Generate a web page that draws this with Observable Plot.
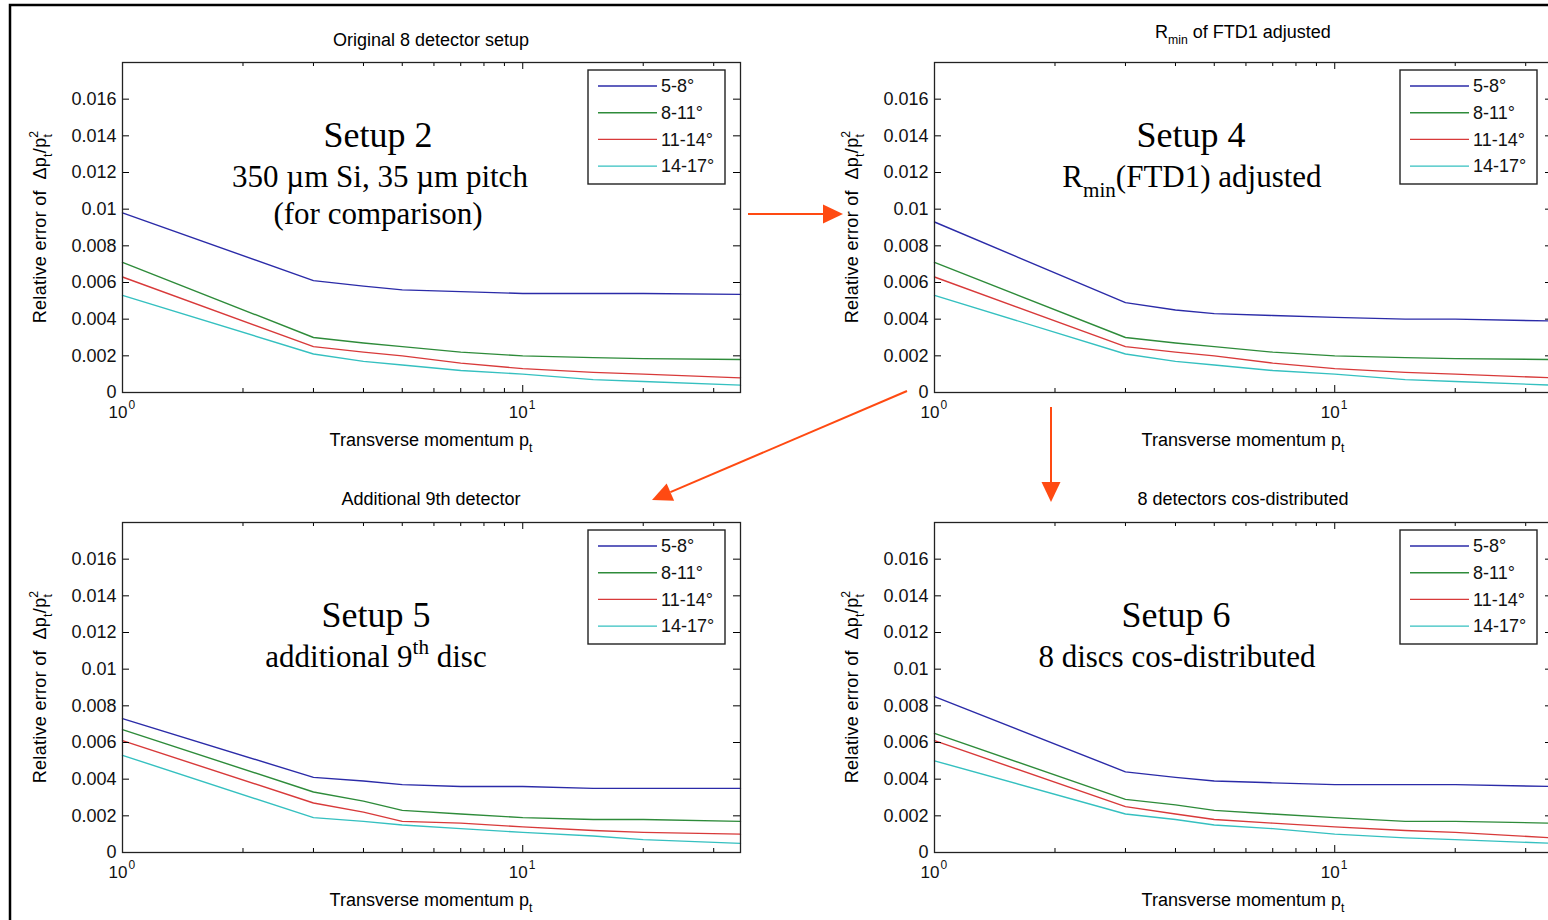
<!DOCTYPE html>
<html>
<head>
<meta charset="utf-8">
<script src="https://cdn.jsdelivr.net/npm/d3@7"></script>
<script src="https://cdn.jsdelivr.net/npm/@observablehq/plot@0.6"></script>
<style>
html, body { margin: 0; padding: 0; overflow: hidden; background: #fff; width: 1548px; height: 920px; }
#root { position: relative; width: 1548px; height: 920px; overflow: hidden; background: #fff; }
.panel { position: absolute; }
#overlay { position: absolute; left: 0; top: 0; pointer-events: none; }
</style>
</head>
<body>
<div id="root"></div>
<script>
// ---------------- DATA ----------------
const pt = [1, 3, 4, 5, 7, 10, 15, 20, 35];           // transverse momentum p_t
const bands = ["5-8°", "8-11°", "11-14°", "14-17°"]; // polar-angle ranges
const lineColors = ["#2b2ba8", "#2e8b3a", "#d83a3a", "#35c0c0"];

// Setup 2 – original 8 detector setup
const s2_5to8   = [0.0098, 0.0061, 0.0058, 0.0056, 0.0055, 0.0054, 0.0054, 0.0054, 0.00535];
const s2_8to11  = [0.0071, 0.0030, 0.0027, 0.0025, 0.0022, 0.0020, 0.0019, 0.00185, 0.0018];
const s2_11to14 = [0.0063, 0.0025, 0.0022, 0.0020, 0.0016, 0.0013, 0.0011, 0.0010, 0.0008];
const s2_14to17 = [0.0053, 0.0021, 0.0017, 0.0015, 0.0012, 0.0010, 0.0007, 0.0006, 0.0004];

// Setup 4 – R_min of FTD1 adjusted
const s4_5to8   = [0.0093, 0.0049, 0.0045, 0.0043, 0.0042, 0.0041, 0.0040, 0.0040, 0.0039];
const s4_8to11  = [0.0071, 0.0030, 0.0027, 0.0025, 0.0022, 0.0020, 0.0019, 0.00185, 0.0018];
const s4_11to14 = [0.0063, 0.0025, 0.0022, 0.0020, 0.0016, 0.0013, 0.0011, 0.0010, 0.0008];
const s4_14to17 = [0.0053, 0.0021, 0.0017, 0.0015, 0.0012, 0.0010, 0.0007, 0.0006, 0.0004];

// Setup 5 – additional 9th detector
const s5_5to8   = [0.0073, 0.0041, 0.0039, 0.0037, 0.0036, 0.0036, 0.0035, 0.0035, 0.0035];
const s5_8to11  = [0.0067, 0.0033, 0.0028, 0.0023, 0.0021, 0.0019, 0.0018, 0.0018, 0.0017];
const s5_11to14 = [0.0061, 0.0027, 0.0022, 0.0017, 0.0016, 0.0014, 0.0012, 0.0011, 0.0010];
const s5_14to17 = [0.0053, 0.0019, 0.0017, 0.0015, 0.0013, 0.0011, 0.0009, 0.0007, 0.0005];

// Setup 6 – 8 detectors cos-distributed
const s6_5to8   = [0.0085, 0.0044, 0.0041, 0.0039, 0.0038, 0.0037, 0.0037, 0.0037, 0.0036];
const s6_8to11  = [0.0065, 0.0029, 0.0026, 0.0023, 0.0021, 0.0019, 0.0017, 0.0017, 0.0016];
const s6_11to14 = [0.0061, 0.0025, 0.0021, 0.0018, 0.0016, 0.0014, 0.0012, 0.0011, 0.0008];
const s6_14to17 = [0.0050, 0.0021, 0.0018, 0.0015, 0.0013, 0.0010, 0.0008, 0.0007, 0.0005];

const yTicks = [0, 0.002, 0.004, 0.006, 0.008, 0.01, 0.012, 0.014, 0.016];
const yTickLabels = ["0", "0.002", "0.004", "0.006", "0.008", "0.01", "0.012", "0.014", "0.016"];
const xMajor = [1, 10];
const xMajorBase = ["10", "10"];
const xMajorExp = ["0", "1"];
const xMinor = [2, 3, 4, 5, 6, 7, 8, 9, 20, 30];

// ---------------- LAYOUT ----------------
const SANS = "'Liberation Sans', Arial, Helvetica, sans-serif";
const SERIF = "'Liberation Serif', 'Times New Roman', Times, serif";
const FS = 18;
const W = 770, H = 460, mL = 122, mT = 62, mR = 30, mB = 68;
const innerW = W - mL - mR, innerH = H - mT - mB;

const panels = [
  { left: 0, top: 0, series: [s2_5to8, s2_8to11, s2_11to14, s2_14to17],
    title: [{t: "Original 8 detector setup"}], titleY: 46,
    notes: [
      {parts: [{t: "Setup 2"}], x: 378, y: 147, size: 36},
      {parts: [{t: "350 µm Si, 35 µm pitch"}], x: 380, y: 187, size: 31},
      {parts: [{t: "(for comparison)"}], x: 378, y: 224, size: 31}
    ]},
  { left: 812, top: 0, series: [s4_5to8, s4_8to11, s4_11to14, s4_14to17],
    title: [{t: "R"}, {t: "min", sub: true}, {t: " of FTD1 adjusted"}], titleY: 38,
    notes: [
      {parts: [{t: "Setup 4"}], x: 379, y: 147, size: 36},
      {parts: [{t: "R"}, {t: "min", sub: true}, {t: "(FTD1) adjusted"}], x: 380, y: 187, size: 31}
    ]},
  { left: 0, top: 460, series: [s5_5to8, s5_8to11, s5_11to14, s5_14to17],
    title: [{t: "Additional 9th detector"}], titleY: 45,
    notes: [
      {parts: [{t: "Setup 5"}], x: 376, y: 167, size: 36},
      {parts: [{t: "additional 9"}, {t: "th", sup: true}, {t: " disc"}], x: 376, y: 207, size: 31}
    ]},
  { left: 812, top: 460, series: [s6_5to8, s6_8to11, s6_11to14, s6_14to17],
    title: [{t: "8 detectors cos-distributed"}], titleY: 45,
    notes: [
      {parts: [{t: "Setup 6"}], x: 364, y: 167, size: 36},
      {parts: [{t: "8 discs cos-distributed"}], x: 365, y: 207, size: 31}
    ]}
];

function rich(g, x, y, parts, opts) {
  const size = opts.size;
  const t = g.append("text")
    .attr("x", x).attr("y", y)
    .attr("text-anchor", opts.anchor || "middle")
    .attr("font-family", opts.family)
    .attr("font-size", size)
    .attr("fill", "#000");
  if (opts.letterSpacing) t.attr("letter-spacing", opts.letterSpacing);
  if (opts.rotate) t.attr("transform", `rotate(-90 ${x} ${y})`);
  let shift = 0;
  for (const p of parts) {
    const target = p.sub ? size * 0.32 : p.sup ? -size * 0.42 : 0;
    const ts = t.append("tspan").text(p.t).attr("dy", target - shift);
    if (p.dx) ts.attr("dx", p.dx);
    if (p.sub || p.sup) ts.attr("font-size", size * 0.68);
    shift = target;
  }
  return t;
}

const root = document.getElementById("root");

for (const P of panels) {
  const data = bands.flatMap((b, i) => pt.map((x, j) => ({x, y: P.series[i][j], band: b})));
  const svg = Plot.plot({
    width: W, height: H,
    marginLeft: mL, marginRight: mR, marginTop: mT, marginBottom: mB,
    style: {fontFamily: SANS, fontSize: FS + "px", background: "transparent", color: "#000", overflow: "visible"},
    x: {type: "log", domain: [1, 35], axis: null},
    y: {domain: [0, 0.018], axis: null},
    color: {domain: bands, range: lineColors},
    marks: [
      Plot.line(data, {x: "x", y: "y", stroke: "band", strokeWidth: 1.4}),
      // inward ticks (MATLAB style, all four sides)
      Plot.tickY(yTicks, {y: d => d, insetRight: innerW - 7, stroke: "#000", strokeWidth: 1}),
      Plot.tickY(yTicks, {y: d => d, insetLeft: innerW - 7, stroke: "#000", strokeWidth: 1}),
      Plot.tickX(xMajor, {x: d => d, insetTop: innerH - 7, stroke: "#000", strokeWidth: 1}),
      Plot.tickX(xMajor, {x: d => d, insetBottom: innerH - 7, stroke: "#000", strokeWidth: 1}),
      Plot.tickX(xMinor, {x: d => d, insetTop: innerH - 4, stroke: "#000", strokeWidth: 1}),
      Plot.tickX(xMinor, {x: d => d, insetBottom: innerH - 4, stroke: "#000", strokeWidth: 1}),
      Plot.frame({stroke: "#222", strokeWidth: 1.3}),
      Plot.axisY({ticks: yTicks, anchor: "left", tickSize: 0, tickPadding: 6, fontSize: FS,
                  tickFormat: d => yTickLabels[yTicks.indexOf(d)], label: null, fill: "#111"}),
      Plot.text(xMajor, {x: d => d, frameAnchor: "bottom", dy: 25, dx: 5, textAnchor: "end",
                         text: d => xMajorBase[xMajor.indexOf(d)], fontSize: 17, fill: "#111"}),
      Plot.text(xMajor, {x: d => d, frameAnchor: "bottom", dy: 16, dx: 6, textAnchor: "start",
                         text: d => xMajorExp[xMajor.indexOf(d)], fontSize: 12, fill: "#111"})
    ]
  });

  const g = d3.select(svg).append("g");
  // title
  rich(g, mL + innerW / 2, P.titleY, P.title, {family: SANS, size: FS});
  // x label
  rich(g, mL + innerW / 2, mT + innerH + 54,
       [{t: "Transverse momentum p"}, {t: "t", sub: true}], {family: SANS, size: FS});
  // y label
  rich(g, 46, mT + innerH / 2,
       [{t: "Relative error of  Δp"}, {t: "t", sub: true}, {t: "/p"}, {t: "t", sub: true},
        {t: "2", sup: true, dx: -4}],
       {family: SANS, size: FS, rotate: true, letterSpacing: 0.3});
  // annotations
  for (const n of P.notes) rich(g, n.x, n.y, n.parts, {family: SERIF, size: n.size});
  // legend
  const lx = 588, ly = 70, lw = 137, lh = 114;
  g.append("rect").attr("x", lx).attr("y", ly).attr("width", lw).attr("height", lh)
    .attr("fill", "#fff").attr("stroke", "#222").attr("stroke-width", 1.4);
  bands.forEach((b, i) => {
    const yy = ly + 16 + i * 26.7;
    g.append("line").attr("x1", lx + 10).attr("x2", lx + 69).attr("y1", yy).attr("y2", yy)
      .attr("stroke", lineColors[i]).attr("stroke-width", 1.4);
    g.append("text").attr("x", lx + 73).attr("y", yy).attr("dy", "0.35em")
      .attr("text-anchor", "start")
      .attr("font-family", SANS).attr("font-size", FS).attr("fill", "#111").text(b);
  });

  svg.classList.add("panel");
  svg.style.left = P.left + "px";
  svg.style.top = P.top + "px";
  root.appendChild(svg);
}

// ---------------- overlay: slide border + arrows ----------------
const ov = d3.select(root).append("svg").attr("id", "overlay")
  .attr("width", 1548).attr("height", 920);
ov.append("path").attr("d", "M10,920 L10,5 L1548,5")
  .attr("fill", "none").attr("stroke", "#000").attr("stroke-width", 2.5);

const ARROW = "#ff4a12";
function arrow(x1, y1, x2, y2) {
  const dx = x2 - x1, dy = y2 - y1, L = Math.hypot(dx, dy);
  const ux = dx / L, uy = dy / L, hl = 20, hw = 9.5;
  const bx = x2 - ux * hl, by = y2 - uy * hl;
  ov.append("line").attr("x1", x1).attr("y1", y1).attr("x2", bx).attr("y2", by)
    .attr("stroke", ARROW).attr("stroke-width", 2);
  ov.append("polygon")
    .attr("points", `${x2},${y2} ${bx - uy * hw},${by + ux * hw} ${bx + uy * hw},${by - ux * hw}`)
    .attr("fill", ARROW);
}
arrow(748, 214, 843, 214);
arrow(907, 391, 652, 500);
arrow(1051, 407, 1051, 502);
</script>
</body>
</html>
